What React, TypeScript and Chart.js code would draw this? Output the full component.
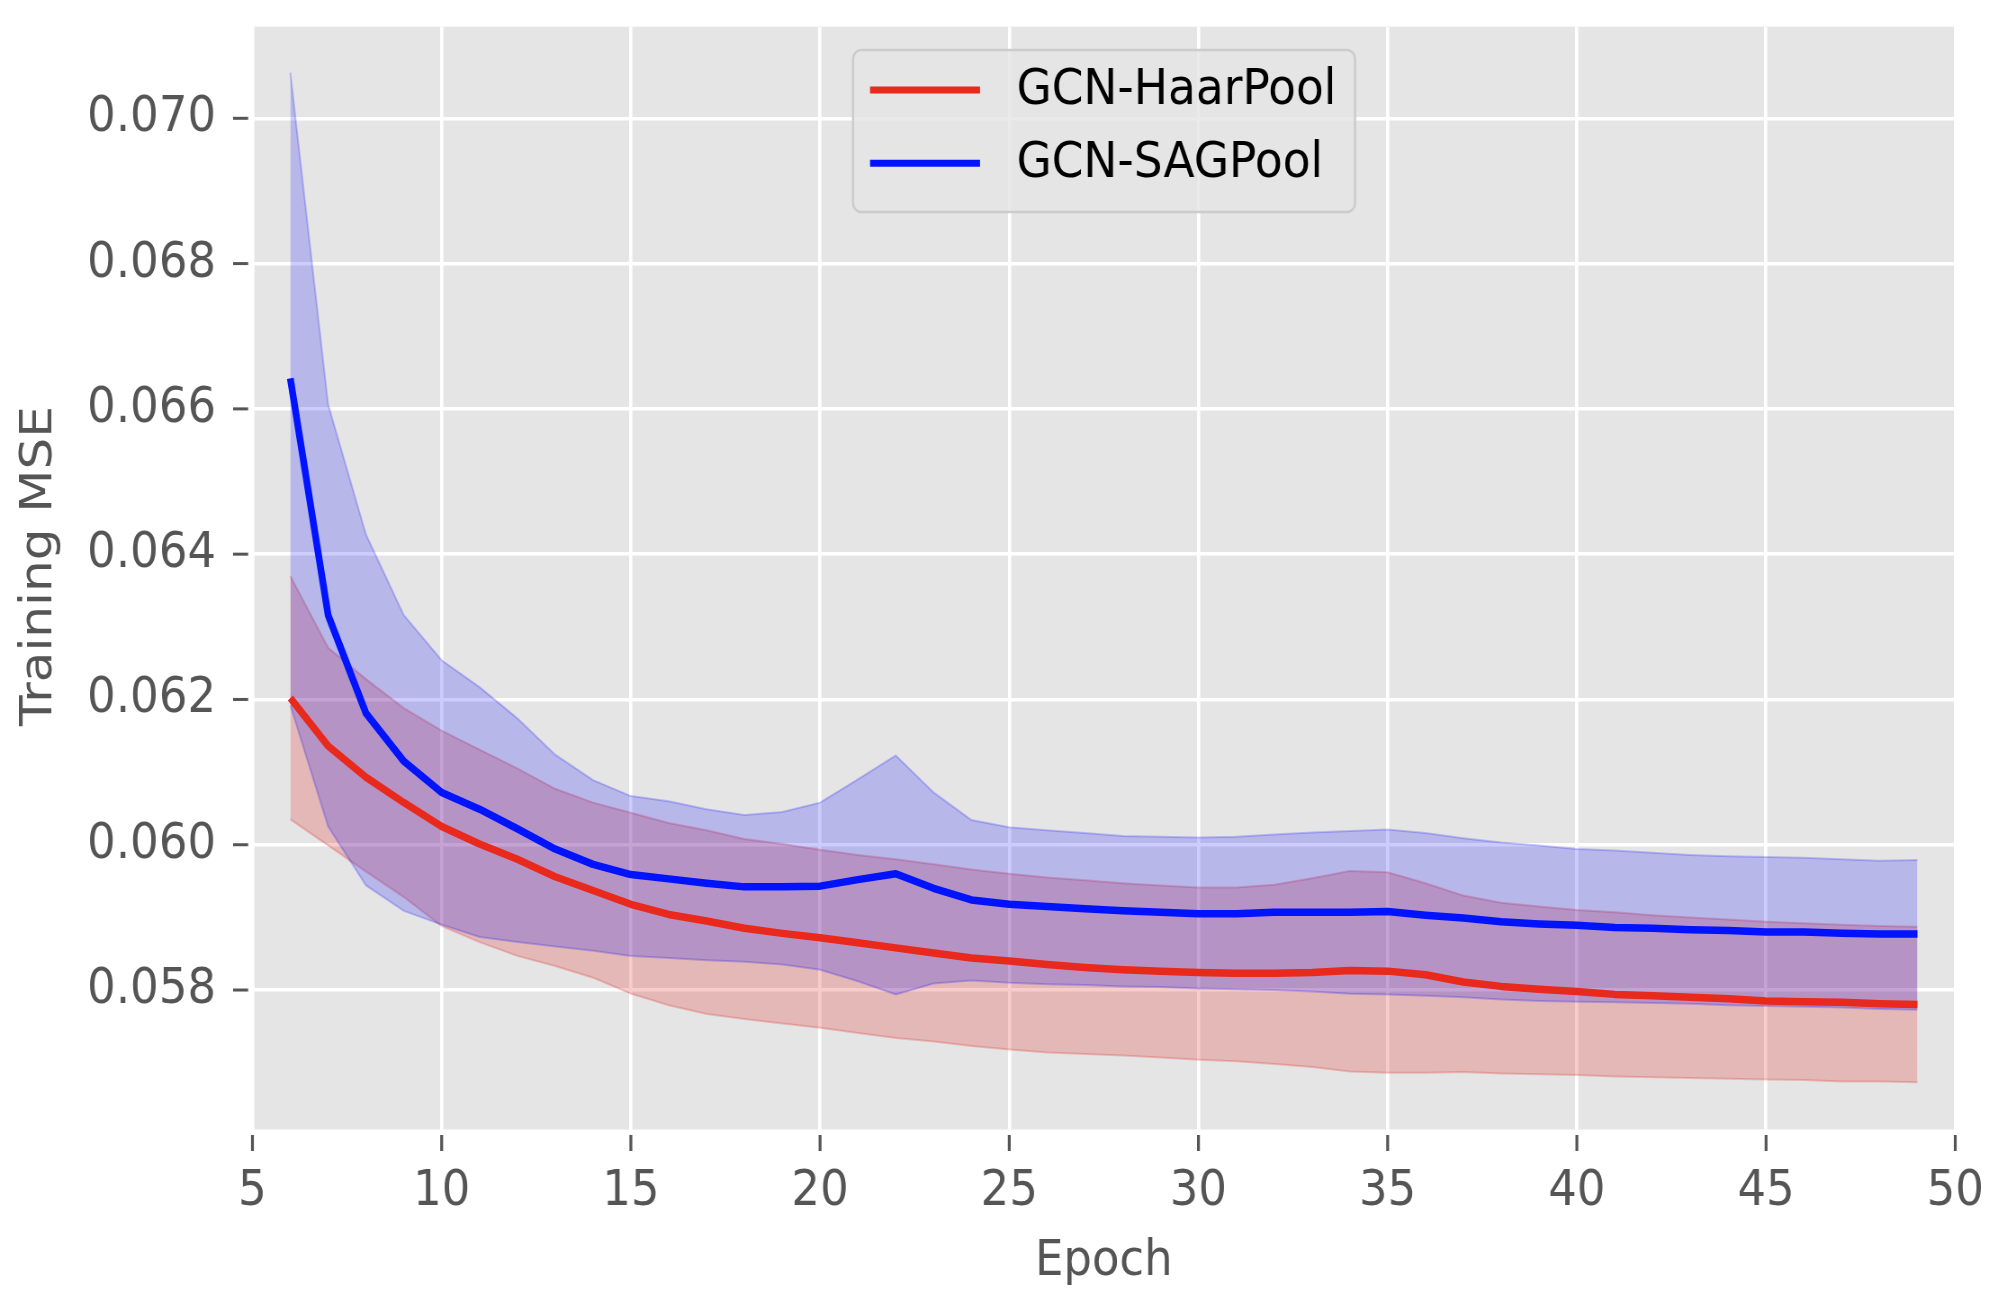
import React, { useEffect, useRef } from "react";
import { Chart, registerables } from "chart.js";

Chart.register(...registerables);

// ---------------- data ----------------
const epochs = [6, 7, 8, 9, 10, 11, 12, 13, 14, 15, 16, 17, 18, 19, 20, 21, 22, 23, 24, 25, 26, 27, 28, 29, 30, 31, 32, 33, 34, 35, 36, 37, 38, 39, 40, 41, 42, 43, 44, 45, 46, 47, 48, 49];

const haarMean = [0.06202, 0.06136, 0.06093, 0.06058, 0.06025, 0.06001, 0.0598, 0.05956, 0.05937, 0.05918, 0.05904, 0.05895, 0.05885, 0.05878, 0.05872, 0.05865, 0.05858, 0.05851, 0.05844, 0.0584, 0.05835, 0.05831, 0.05828, 0.05826, 0.05824, 0.05823, 0.05823, 0.05824, 0.05827, 0.05826, 0.05821, 0.05811, 0.05805, 0.05801, 0.05798, 0.05794, 0.05792, 0.0579, 0.05788, 0.05785, 0.05784, 0.05783, 0.05781, 0.0578];
const haarUpper = [0.0637, 0.06271, 0.06228, 0.06188, 0.06157, 0.06131, 0.06105, 0.06077, 0.06058, 0.06044, 0.0603, 0.0602, 0.06008, 0.06001, 0.05993, 0.05986, 0.0598, 0.05973, 0.05966, 0.0596, 0.05955, 0.05951, 0.05947, 0.05944, 0.05941, 0.05941, 0.05945, 0.05954, 0.05964, 0.05962, 0.05947, 0.0593, 0.0592, 0.05915, 0.0591, 0.05907, 0.05903, 0.059, 0.05897, 0.05894, 0.05892, 0.0589, 0.05888, 0.05887];
const haarLower = [0.06035, 0.05999, 0.05963, 0.05928, 0.05888, 0.05866, 0.05847, 0.05833, 0.05817, 0.05795, 0.05779, 0.05767, 0.0576, 0.05754, 0.05748, 0.05741, 0.05734, 0.05729, 0.05723, 0.05718, 0.05714, 0.05712, 0.0571, 0.05707, 0.05704, 0.05702, 0.05698, 0.05694, 0.05688, 0.05686, 0.05686, 0.05687, 0.05685, 0.05684, 0.05683, 0.05681, 0.0568, 0.05679, 0.05678, 0.05677, 0.05676, 0.05674, 0.05674, 0.05673];

const sagMean = [0.06642, 0.06316, 0.06181, 0.06115, 0.06072, 0.06049, 0.06022, 0.05994, 0.05973, 0.05959, 0.05953, 0.05947, 0.05942, 0.05942, 0.05943, 0.05952, 0.0596, 0.0594, 0.05924, 0.05918, 0.05915, 0.05912, 0.05909, 0.05907, 0.05905, 0.05905, 0.05907, 0.05907, 0.05907, 0.05908, 0.05903, 0.05899, 0.05894, 0.05891, 0.05889, 0.05886, 0.05885, 0.05883, 0.05882, 0.0588, 0.0588, 0.05878, 0.05877, 0.05877];
const sagUpper = [0.07063, 0.06606, 0.06427, 0.06316, 0.06254, 0.06217, 0.06174, 0.06124, 0.06089, 0.06067, 0.0606, 0.06049, 0.06041, 0.06045, 0.06058, 0.0609, 0.06123, 0.06072, 0.06034, 0.06024, 0.0602, 0.06016, 0.06012, 0.06011, 0.0601, 0.06011, 0.06014, 0.06017, 0.06019, 0.06021, 0.06016, 0.06009, 0.06003, 0.05999, 0.05994, 0.05992, 0.05989, 0.05986, 0.05984, 0.05983, 0.05982, 0.0598, 0.05978, 0.05979];
const sagLower = [0.06192, 0.06025, 0.05944, 0.05909, 0.0589, 0.05873, 0.05866, 0.0586, 0.05854, 0.05847, 0.05844, 0.05841, 0.05839, 0.05835, 0.05828, 0.05812, 0.05794, 0.05809, 0.05813, 0.0581, 0.05808, 0.05807, 0.05805, 0.05804, 0.05802, 0.05801, 0.058, 0.05798, 0.05795, 0.05794, 0.05792, 0.0579, 0.05787, 0.05785, 0.05784, 0.05783, 0.05782, 0.05781, 0.05779, 0.05778, 0.05777, 0.05776, 0.05774, 0.05773];

const seriesNames = ["GCN-HaarPool", "GCN-SAGPool"];
const xTickValues = [5, 10, 15, 20, 25, 30, 35, 40, 45, 50];
const yTickValues = [0.058, 0.06, 0.062, 0.064, 0.066, 0.068, 0.07];
const xRange = [5, 50];
const yRange = [0.05608, 0.071261];
const xTitle = "Epoch";
const yTitle = "Training MSE";

// ---------------- styles ----------------
const FONT = "'DejaVu Sans', 'Liberation Sans', sans-serif";
const SQUISH = 0.9; // reference image is horizontally compressed
const CW = 2222;
const CH = 1290;
const RED = "#E8291C";
const BLUE = "#0013FF";
const RED_FILL = "rgba(222, 40, 36, 0.24)";
const BLUE_FILL = "rgba(0, 0, 255, 0.2)";
const TICK_COLOR = "#555555";

const pts = (ys: number[]) => epochs.map((x, i) => ({ x, y: ys[i] }));

const bgPlugin = {
  id: "bgPlugin",
  beforeDraw(chart: any) {
    const { ctx, chartArea: a } = chart;
    ctx.save();
    ctx.fillStyle = "#E5E5E5";
    ctx.fillRect(a.left, a.top, a.right - a.left, a.bottom - a.top);
    ctx.restore();
  },
};

const tickMarksPlugin = {
  id: "tickMarks",
  afterDraw(chart: any) {
    const { ctx, chartArea: a, scales } = chart;
    ctx.save();
    ctx.fillStyle = TICK_COLOR;
    xTickValues.forEach((v) => {
      const px = scales.x.getPixelForValue(v);
      ctx.fillRect(px - 1.6, a.bottom + 5.5, 3.2, 16);
    });
    yTickValues.forEach((v) => {
      const py = scales.y.getPixelForValue(v);
      ctx.fillRect(a.left - 21.5, py - 1.5, 16.7, 3);
    });
    // y axis title
    ctx.translate(44.4, (a.top + a.bottom) / 2 - 12);
    ctx.rotate(-Math.PI / 2);
    ctx.fillStyle = TICK_COLOR;
    ctx.font = `50px ${FONT}`;
    ctx.textAlign = "center";
    ctx.textBaseline = "middle";
    ctx.fillText(yTitle, 0, 0);
    ctx.restore();
  },
};

const legendPlugin = {
  id: "customLegend",
  afterDatasetsDraw(chart: any) {
    const { ctx, chartArea: a } = chart;
    const left = a.left + 667.3;
    const top = 50;
    const w = 557.8;
    const h = 162;
    ctx.save();
    ctx.beginPath();
    ctx.roundRect(left, top, w, h, 9);
    ctx.fillStyle = "rgba(229, 229, 229, 0.8)";
    ctx.fill();
    ctx.lineWidth = 2.5;
    ctx.strokeStyle = "#CCCCCC";
    ctx.stroke();
    const colors = [RED, BLUE];
    const rows = [90, 163.3];
    seriesNames.forEach((name, i) => {
      ctx.beginPath();
      ctx.moveTo(left + 18.9, rows[i]);
      ctx.lineTo(left + 141.1, rows[i]);
      ctx.lineWidth = 7;
      ctx.strokeStyle = colors[i];
      ctx.lineCap = "butt";
      ctx.stroke();
      ctx.fillStyle = "#000000";
      ctx.font = `50.5px ${FONT}`;
      ctx.textAlign = "left";
      ctx.textBaseline = "middle";
      ctx.fillText(name, left + 181.6, rows[i] + 1);
    });
    ctx.restore();
  },
};

export default function App() {
  const ref = useRef<HTMLCanvasElement | null>(null);

  useEffect(() => {
    if (!ref.current) return;
    const band = (data: number[], color: string, fill: any, order: number) => ({
      data: pts(data),
      borderColor: color,
      backgroundColor: color,
      borderWidth: 2,
      pointRadius: 0,
      tension: 0,
      fill,
      order,
    });
    const chart = new Chart(ref.current, {
      type: "line",
      data: {
        datasets: [
          band(haarUpper, RED_FILL, "+1", 6),
          band(haarLower, RED_FILL, false, 5),
          band(sagUpper, BLUE_FILL, "+1", 4),
          band(sagLower, BLUE_FILL, false, 3),
          {
            label: seriesNames[0],
            data: pts(haarMean),
            borderColor: RED,
            backgroundColor: RED,
            borderWidth: 7.5,
            pointRadius: 0,
            tension: 0,
            fill: false,
            borderJoinStyle: "round",
            order: 1,
          },
          {
            label: seriesNames[1],
            data: pts(sagMean),
            borderColor: BLUE,
            backgroundColor: BLUE,
            borderWidth: 7.5,
            pointRadius: 0,
            tension: 0,
            fill: false,
            borderJoinStyle: "round",
            order: 0,
          },
        ],
      },
      options: {
        animation: false,
        responsive: false,
        devicePixelRatio: 1,
        events: [],
        layout: { padding: { left: 88.8, right: 49.5, top: 26.7, bottom: 0 } },
        plugins: {
          legend: { display: false },
          tooltip: { enabled: false },
          filler: { propagate: false },
        },
        scales: {
          x: {
            type: "linear",
            min: xRange[0],
            max: xRange[1],
            afterFit: (s: any) => {
              s.height = 160.5;
              s.paddingLeft = 0;
              s.paddingRight = 0;
            },
            afterBuildTicks: (s: any) => {
              s.ticks = xTickValues.map((value) => ({ value }));
            },
            grid: { color: "#FFFFFF", lineWidth: 3.6, drawTicks: false },
            border: { display: false },
            ticks: {
              color: TICK_COLOR,
              padding: 33,
              font: { family: FONT, size: 50, lineHeight: 1.2 },
              maxRotation: 0,
              callback: (v: any) => String(v),
            },
            title: {
              display: true,
              text: xTitle,
              color: TICK_COLOR,
              font: { family: FONT, size: 50, lineHeight: 1.1 },
              padding: { top: 0, bottom: 0 },
            },
          },
          y: {
            type: "linear",
            min: yRange[0],
            max: yRange[1],
            afterFit: (s: any) => {
              s.width = 191.7;
              s.paddingTop = 0;
              s.paddingBottom = 0;
            },
            afterBuildTicks: (s: any) => {
              s.ticks = yTickValues.map((value) => ({ value }));
            },
            grid: { color: "#FFFFFF", lineWidth: 3.6, drawTicks: false },
            border: { display: false },
            ticks: {
              color: TICK_COLOR,
              padding: 40.5,
              font: { family: FONT, size: 50, lineHeight: 1.2 },
              callback: (v: any) => Number(v).toFixed(3),
            },
            title: { display: false },
          },
        },
      },
      plugins: [bgPlugin, tickMarksPlugin, legendPlugin],
    } as any);
    return () => chart.destroy();
  }, []);

  return (
    <div
      style={{
        position: "absolute",
        left: 0,
        top: 0,
        width: 2000,
        height: 1290,
        overflow: "hidden",
        background: "#FFFFFF",
      }}
    >
      <div
        style={{
          width: CW,
          height: CH,
          transform: `scaleX(${SQUISH})`,
          transformOrigin: "0 0",
        }}
      >
        <canvas ref={ref} width={CW} height={CH} style={{ width: CW, height: CH, display: "block" }} />
      </div>
    </div>
  );
}
